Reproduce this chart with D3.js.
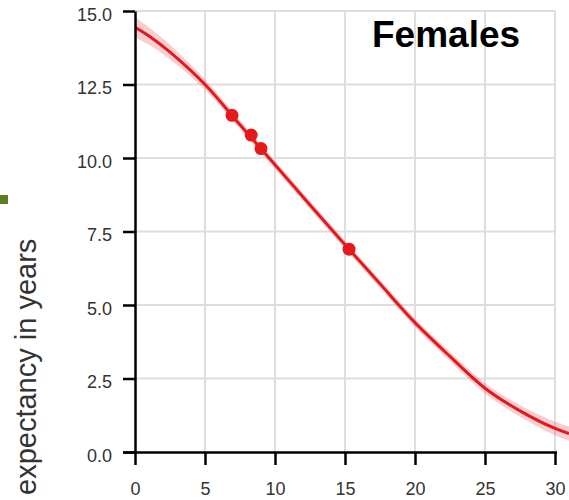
<!DOCTYPE html>
<html><head><meta charset="utf-8">
<script src="https://cdn.jsdelivr.net/npm/d3@7"></script>
<style>body{margin:0;background:#fff}svg{display:block}</style>
</head><body><svg id="c" width="569" height="500"></svg>
<script>
// Data
const curveX = [0, 1, 2.5, 5, 7.5, 10, 12.5, 15, 17.5, 20, 22.5, 25, 27.5, 30, 31];
const curveY = [14.45, 14.15, 13.6, 12.5, 11.13, 9.77, 8.4, 7.05, 5.72, 4.4, 3.25, 2.17, 1.4, 0.8, 0.63];
const bandHalf = [0.35, 0.3, 0.25, 0.18, 0.15, 0.14, 0.14, 0.14, 0.14, 0.15, 0.16, 0.18, 0.2, 0.23, 0.24];
const pointX = [6.93, 8.3, 9.0, 15.29];
const pointY = [11.45, 10.78, 10.32, 6.9];
const xTicks = [0, 5, 10, 15, 20, 25, 30];
const yTicks = [0, 2.5, 5, 7.5, 10, 12.5, 15];
const title = "Females";
const yLabel = "expectancy in years";

const svg = d3.select("#c");
const x = d3.scaleLinear().domain([0, 30]).range([135, 555]);
const y = d3.scaleLinear().domain([0, 15]).range([452, 11]);
const font = "'Liberation Sans', Arial, sans-serif";

// grid
svg.append("g").selectAll("line").data(xTicks.slice(1)).join("line")
  .attr("x1", d => x(d)).attr("x2", d => x(d)).attr("y1", y(15)).attr("y2", y(0))
  .attr("stroke", "#dedede").attr("stroke-width", 2);
svg.append("g").selectAll("line").data(yTicks.slice(1)).join("line")
  .attr("x1", x(0)).attr("x2", x(30)).attr("y1", d => y(d)).attr("y2", d => y(d))
  .attr("stroke", "#dedede").attr("stroke-width", 2);

// ribbon
const data = curveX.map((v, i) => ({x: v, y: curveY[i], h: bandHalf[i]}));
svg.append("path").datum(data)
  .attr("d", d3.area().x(d => x(d.x)).y0(d => y(d.y - d.h)).y1(d => y(d.y + d.h)).curve(d3.curveCatmullRom))
  .attr("fill", "rgba(232,60,70,0.25)");
svg.append("path").datum(data)
  .attr("d", d3.line().x(d => x(d.x)).y(d => y(d.y)).curve(d3.curveCatmullRom))
  .attr("fill", "none").attr("stroke", "#e3191c").attr("stroke-width", 3);

// points
svg.append("g").selectAll("circle").data(pointX).join("circle")
  .attr("cx", d => x(d)).attr("cy", (d, i) => y(pointY[i])).attr("r", 6.5)
  .attr("fill", "#e3191c");

// axes
const xAxis = svg.append("g").attr("transform", `translate(0,${y(0)})`)
  .call(d3.axisBottom(x).tickValues(xTicks).tickFormat(d3.format("d")).tickSize(13).tickSizeOuter(0).tickPadding(17));
const yAxis = svg.append("g").attr("transform", `translate(${x(0)},0)`)
  .call(d3.axisLeft(y).tickValues(yTicks).tickFormat(d3.format(".1f")).tickSize(12).tickSizeOuter(0).tickPadding(11));
[xAxis, yAxis].forEach(g => {
  g.select(".domain").attr("stroke", "#000").attr("stroke-width", 2.5);
  g.selectAll(".tick line").attr("stroke", "#000").attr("stroke-width", 2.5);
  g.selectAll(".tick text").attr("fill", "#333").attr("font-size", 18).attr("font-family", font);
});
xAxis.select(".domain").attr("d", `M${x(0) - 12},0.5H${x(30) + 2}`);
yAxis.selectAll(".tick text").attr("dy", "0.5em");

// title
svg.append("text").attr("x", 372).attr("y", 47).text(title)
  .attr("font-family", font).attr("font-weight", "bold").attr("font-size", 37).attr("fill", "#000");

// y label (cropped)
svg.append("text").attr("transform", "translate(36,495) rotate(-90)").text(yLabel)
  .attr("font-family", font).attr("font-size", 29).attr("fill", "#333");

// legend swatch remnant
svg.append("rect").attr("x", 0).attr("y", 195).attr("width", 8).attr("height", 9).attr("fill", "#5e7d1e");
</script></body></html>
